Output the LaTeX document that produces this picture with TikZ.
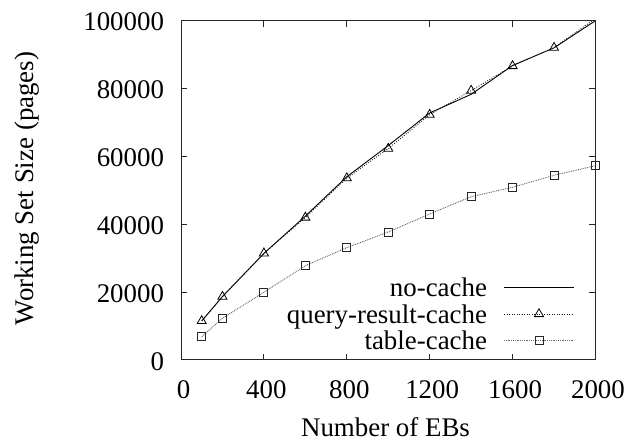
\documentclass[tikz,border=0pt]{standalone}
\usepackage{fontspec}
\setmainfont{Liberation Serif}
\usetikzlibrary{shapes.geometric}
\begin{document}
\begin{tikzpicture}[x=1bp,y=1bp,
  every node/.style={font=\fontsize{27}{32}\selectfont, inner sep=0pt, outer sep=0pt},
  frame/.style={line width=1bp, black!85},
  nocache/.style={line width=0.9bp, black},
  qrcache/.style={line width=0.9bp, black!90, dash pattern=on 0.9bp off 1.6bp},
  tbcache/.style={line width=0.9bp, black!60, dash pattern=on 0.9bp off 0.9bp},
  trimark/.style={regular polygon, regular polygon sides=3, draw=black, line width=0.8bp, minimum size=10.5bp},
  sqmark/.style={rectangle, draw=black!85, line width=0.8bp, minimum size=8bp}]
\useasboundingbox (0,0) rectangle (629,444);

% plot area: EBs on x, thousands of pages on y
\begin{scope}[xshift=181bp, yshift=84bp, x=0.20725bp, y=3.393bp]
  % ticks (mirrored on opposite sides)
  \foreach \t in {0,400,...,2000} {
    \draw[frame] (\t,0) -- ++(0,6bp);
    \draw[frame] (\t,100) -- ++(0,-6bp);
    \node[anchor=base, xshift=2.5bp, yshift=-38.3bp] (xl\t) at (\t,0) {\t};
  }
  \foreach \v/\lab in {0/0,20/20000,40/40000,60/60000,80/80000,100/100000} {
    \draw[frame] (0,\v) -- ++(6bp,0);
    \draw[frame] (2000,\v) -- ++(-6bp,0);
    \node[anchor=east, xshift=-17bp, yshift=-1.3bp] (yl\v) at (0,\v) {\lab};
  }

  \begin{scope}
    \clip (0,0) rectangle (2000,100);
    \draw[nocache] plot coordinates {(100,11.5) (200,18.7) (400,31.4) (600,42.4) (800,54.0) (1000,63.2) (1200,72.8) (1400,78.3) (1600,86.8) (1800,92.0) (2000,100)};
    \draw[qrcache] plot coordinates {(100,11.5) (200,18.66) (400,31.45) (600,42.0) (800,53.6) (1000,62.3) (1200,72.3) (1400,79.4) (1600,86.65) (1800,92.04) (2000,100.7)};
    \draw[tbcache] plot coordinates {(100,6.87) (200,12.29) (400,19.95) (600,27.8) (800,33.1) (1000,37.72) (1200,43.03) (1400,48.13) (1600,50.9) (1800,54.43) (2000,57.26)};
  \end{scope}

  \foreach \px/\py [count=\i] in {100/11.5,200/18.66,400/31.45,600/42.0,800/53.6,1000/62.3,1200/72.3,1400/79.4,1600/86.65,1800/92.04}
    \node[trimark] (q\i) at (\px,\py) {};
  \foreach \px/\py [count=\i] in {100/6.87,200/12.29,400/19.95,600/27.8,800/33.1,1000/37.72,1200/43.03,1400/48.13,1600/50.9,1800/54.43,2000/57.26}
    \node[sqmark] (s\i) at (\px,\py) {};

  \draw[frame] (0,0) rectangle (2000,100);
\end{scope}

% axis titles
\node[anchor=base] (xtitle) at (385.5,7.3) {Number of EBs};
\node[anchor=base, rotate=90] (ytitle) at (33,255.5) {Working Set Size (pages)};

% key
\node[anchor=base east] (k1) at (487,147.3) {no-cache};
\node[anchor=base east] (k2) at (487,120.7) {query-result-cache};
\node[anchor=base east] (k3) at (487,94.7) {table-cache};
\coordinate (a1) at (504,156.5); \coordinate (b1) at (574,156.5);
\coordinate (a2) at (504,130);   \coordinate (b2) at (574,130);
\coordinate (a3) at (504,103.5); \coordinate (b3) at (574,103.5);
\draw[nocache] (a1) -- (b1);
\draw[qrcache] (a2) -- (b2);
\draw[tbcache] (a3) -- (b3);
\node[trimark] (km2) at (539,130) {};
\node[sqmark] (km3) at (539,103.5) {};
\end{tikzpicture}
\end{document}
